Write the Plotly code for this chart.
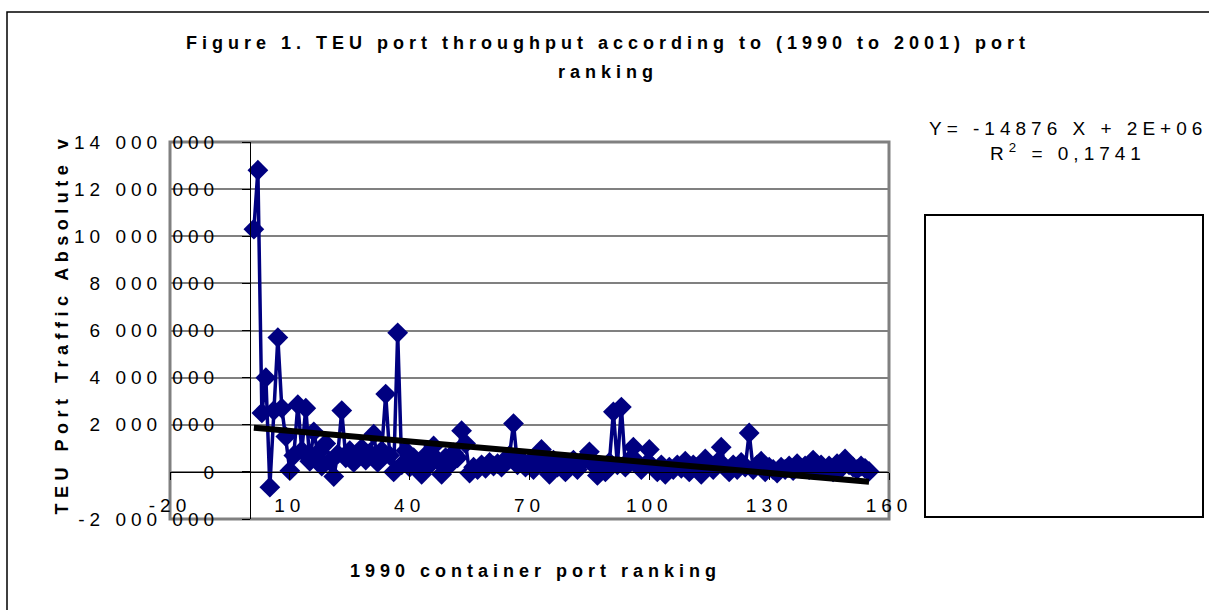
import plotly.graph_objects as go

# ---------------- data ----------------
rank_1990 = list(range(1, 156))
teu_values = [
    10300000, 12800000, 2500000, 4000000, -650000, 2600000, 5700000, 2700000, 1500000, 50000,
    700000, 2850000, 900000, 2700000, 450000, 1700000, 800000, 250000, 1200000, 450000,
    -200000, 750000, 2600000, 600000, 900000, 400000, 700000, 1000000, 500000, 800000,
    1600000, 400000, 900000, 3300000, 700000, 0, 5900000, 300000, 900000, 200000,
    600000, 400000, -100000, 700000, 300000, 1100000, 500000, -100000, 600000, 300000,
    800000, 600000, 1750000, 1200000, -50000, 200000, 100000, 300000, 150000, 400000,
    250000, 350000, 200000, 500000, 700000, 2050000, 300000, 500000, 200000, 400000,
    100000, 600000, 950000, 300000, -100000, 500000, 200000, 400000, 0, 300000,
    500000, 100000, 400000, 600000, 850000, 300000, -150000, 200000, 0, 400000,
    2550000, 300000, 2750000, 200000, 500000, 1050000, 400000, 100000, 300000, 950000,
    200000, 0, 300000, -100000, 200000, 100000, 300000, 150000, 450000, 0,
    300000, 200000, -100000, 550000, 300000, 100000, 400000, 1050000, 200000, 0,
    300000, 100000, 400000, 200000, 1650000, 100000, 300000, 450000, 0, 200000,
    100000, -50000, 200000, 100000, 250000, 50000, 350000, 150000, 250000, 100000,
    500000, 200000, 300000, 100000, 250000, 0, 350000, 150000, 550000, 300000,
    200000, 100000, 250000, 150000, 20000,
]
trend_x = [1, 155]
trend_y = [1870000, -420000]

x_tickvals = [-20, 10, 40, 70, 100, 130, 160]
x_ticklabels = ["-20", "10", "40", "70", "100", "130", "160"]
y_tickvals = [-2000000, 0, 2000000, 4000000, 6000000, 8000000, 10000000, 12000000, 14000000]
y_ticklabels = ["-2 000 000", "0", "2 000 000", "4 000 000", "6 000 000", "8 000 000",
                "10 000 000", "12 000 000", "14 000 000"]

title_line1 = "Figure 1. TEU port throughput according to (1990 to 2001) port"
title_line2 = "ranking"
x_title = "1990 container port ranking"
y_title = "TEU Port Traffic Absolute v"
equation = "Y= -14876 X + 2E+06"
r2_text = "R<sup>2</sup> = 0,1741"

# ---------------- layout helpers ----------------
W, H = 1209, 610
PL, PR, PT, PB = 170, 889, 142, 519   # plot area in pixels
FONT = "Liberation Sans, Arial, sans-serif"


def px(xp):
    return (xp - PL) / (PR - PL)


def py(yp):
    return (PB - yp) / (PB - PT)


def sp(text, ls):
    return '<span style="letter-spacing:%spx">%s</span>' % (ls, text)


fig = go.Figure()
fig.add_trace(go.Scatter(
    x=rank_1990, y=teu_values, mode="lines+markers",
    line=dict(color="#000080", width=3.5),
    marker=dict(symbol="diamond", size=16, color="#000080"),
    showlegend=False, hoverinfo="x+y",
))
fig.add_trace(go.Scatter(
    x=trend_x, y=trend_y, mode="lines",
    line=dict(color="#000000", width=6),
    showlegend=False, hoverinfo="skip",
))

tick_font = dict(family=FONT, size=19, color="#000000")

fig.update_layout(
    width=W, height=H, autosize=False,
    margin=dict(l=PL, r=W - PR, t=PT, b=H - PB, pad=0),
    paper_bgcolor="#ffffff", plot_bgcolor="#ffffff",
    showlegend=False,
    xaxis=dict(
        range=[-20, 160], tickvals=x_tickvals,
        ticktext=[sp(t, 5) for t in x_ticklabels],
        anchor="free", position=(0 - (-2000000)) / 16000000,
        showline=True, linecolor="#000000", linewidth=1,
        ticks="outside", ticklen=7, tickcolor="#000000", tickwidth=1,
        showgrid=False, zeroline=False, tickangle=0,
        tickfont=tick_font, ticklabelstandoff=9,
    ),
    yaxis=dict(
        range=[-2000000, 14000000], tickvals=y_tickvals,
        ticktext=[sp(t, 5) for t in y_ticklabels],
        anchor="free", position=(0 - (-20)) / 180,
        showline=True, linecolor="#000000", linewidth=1,
        ticks="outside", ticklen=8, tickcolor="#000000", tickwidth=1,
        showgrid=True, gridcolor="#808080", gridwidth=2,
        zeroline=False, tickfont=tick_font, ticklabelstandoff=19,
    ),
)

shapes = [
    # plot area border
    dict(type="rect", xref="paper", yref="paper", x0=0, x1=1, y0=0, y1=1,
         line=dict(color="#808080", width=3), layer="between"),
    # thin black gridline at 8 000 000
    dict(type="line", xref="paper", yref="y", x0=0, x1=1, y0=y_tickvals[5], y1=y_tickvals[5],
         line=dict(color="#000000", width=1), layer="between"),
    # chart outer border
    dict(type="rect", xref="paper", yref="paper", x0=px(7), x1=px(1240), y0=py(640), y1=py(12),
         line=dict(color="#000000", width=1.5), layer="below"),
    # empty legend box
    dict(type="rect", xref="paper", yref="paper", x0=px(925), x1=px(1203), y0=py(517), y1=py(215),
         line=dict(color="#000000", width=2), fillcolor="#ffffff", layer="below"),
]
fig.update_layout(shapes=shapes)

bold18 = dict(family=FONT, size=18, color="#000000", weight="bold")
reg19 = dict(family=FONT, size=19, color="#000000")
annotations = [
    dict(text=sp(title_line1, 5), x=px(608), y=py(43), font=bold18),
    dict(text=sp(title_line2, 5), x=px(608), y=py(72), font=bold18),
    dict(text=sp(x_title, 5), x=px(535), y=py(571), font=bold18),
    dict(text=sp(y_title, 5.5), x=px(61), y=py(517), font=bold18, textangle=-90,
         yanchor="bottom"),
    dict(text=sp(equation, 5), x=px(1068), y=py(128), font=reg19),
    dict(text=sp(r2_text, 5), x=px(1068), y=py(152), font=reg19),
]
for a in annotations:
    a.setdefault("xanchor", "center")
    a.setdefault("yanchor", "middle")
    a.update(xref="paper", yref="paper", showarrow=False)
fig.update_layout(annotations=annotations)

fig.write_html("out.html", config={"displayModeBar": False},
               post_script="document.body.style.margin='0';document.body.style.overflow='hidden';")
